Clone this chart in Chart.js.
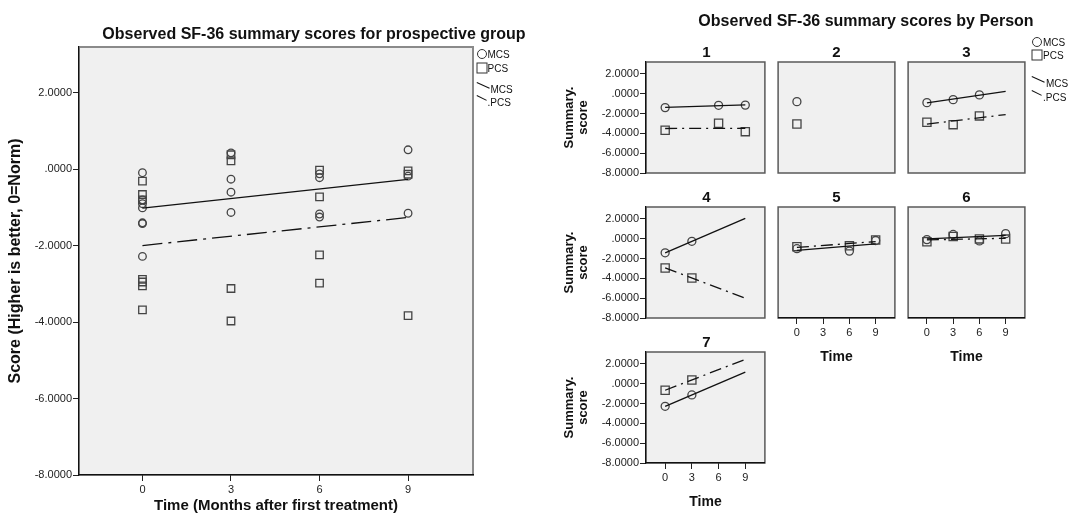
<!DOCTYPE html>
<html>
<head>
<meta charset="utf-8">
<script src="https://cdn.jsdelivr.net/npm/chart.js@4.4.0/dist/chart.umd.min.js"></script>
<style>
  body { margin: 0; width: 1079px; height: 515px; overflow: hidden; position: relative; background: #fff;
         font-family: "Liberation Sans", Arial, sans-serif; color: #111; }
  canvas { position: absolute; }
  .txt { position: absolute; white-space: nowrap; transform: translate(-50%, -50%); }
  .ttl { font-weight: bold; font-size: 16px; }
  .lg { position: absolute; white-space: nowrap; font-size: 10px; transform: translateY(-50%); }
  .dot { position: absolute; width: 8px; height: 8px; border: 1.2px solid #333; border-radius: 50%; transform: translate(-50%, -50%); }
  .sq { position: absolute; width: 9px; height: 9px; border: 1.2px solid #333; transform: translate(-50%, -50%); }
  .seg { position: absolute; height: 0; border-top: 1.3px solid #111; transform-origin: 0 0; }
</style>
</head>
<body>
<script>
// ---- data ----
const times = [0, 3, 6, 9];
const persons = ['1', '2', '3', '4', '5', '6', '7'];
// MCS / PCS per person at times 0, 3, 6, 9 (null = not observed)
const mcs = [
  [-1.40, null, -1.17, -1.15],
  [-0.80, null, null, null],
  [-0.90, -0.60, -0.12, null],
  [-1.42, -0.26, null, null],
  [-1.01, null, -1.25, -0.18],
  [-0.09, 0.43, -0.22, 0.51],
  [-2.28, -1.13, null, null]
];
const pcs = [
  [-3.68, null, -2.98, -3.83],
  [-3.05, null, null, null],
  [-2.88, -3.12, -2.24, null],
  [-2.95, -3.97, null, null],
  [-0.80, null, -0.72, -0.13],
  [-0.31, 0.22, -0.02, -0.04],
  [-0.66, 0.38, null, null]
];
const yTicks = [-8, -6, -4, -2, 0, 2];
const xTicks = [0, 3, 6, 9];
const yMin = -8, yMax = 3.2;
const xMin = -2.15, xMax = 11.2;

Chart.defaults.font.family = '"Liberation Sans", Arial, sans-serif';
Chart.defaults.color = '#222';
Chart.defaults.animation = false;

// grey plot background + frame
const panelBg = {
  id: 'panelBg',
  beforeDraw(chart, args, o) {
    const a = chart.chartArea, ctx = chart.ctx;
    ctx.save();
    ctx.fillStyle = '#f0f0f0';
    ctx.fillRect(a.left, a.top, a.right - a.left, a.bottom - a.top);
    ctx.strokeStyle = o.edge || '#666';
    ctx.lineWidth = o.edgeWidth || 1.5;
    ctx.strokeRect(a.left, a.top, a.right - a.left, a.bottom - a.top);
    ctx.restore();
  }
};

const fmt = v => Number(v).toFixed(4).replace(/^(-?)0\./, '$1.');

function points(rows) {
  const out = [];
  rows.forEach(r => r.forEach((v, i) => { if (v != null) out.push({ x: times[i], y: v }); }));
  return out;
}

// least squares fit over the time range
function fitLine(pts) {
  if (pts.length < 2) return [];
  const n = pts.length;
  const mx = pts.reduce((s, p) => s + p.x, 0) / n;
  const my = pts.reduce((s, p) => s + p.y, 0) / n;
  let sxy = 0, sxx = 0;
  pts.forEach(p => { sxy += (p.x - mx) * (p.y - my); sxx += (p.x - mx) ** 2; });
  const b = sxy / sxx, a = my - b * mx;
  const x0 = times[0], x1 = times[times.length - 1];
  return [{ x: x0, y: a + b * x0 }, { x: x1, y: a + b * x1 }];
}

function markerSet(pts, style, r) {
  return { data: pts, showLine: false, pointStyle: style, pointRadius: r, pointHoverRadius: r,
           pointBorderWidth: 1.3, pointBorderColor: '#444', pointBackgroundColor: 'rgba(0,0,0,0)' };
}
function lineSet(pts, dash) {
  return { data: pts, showLine: true, pointRadius: 0, pointHoverRadius: 0,
           borderColor: '#111', borderWidth: 1.3, borderDash: dash, fill: false };
}

function yScale(show, width, title) {
  return {
    type: 'linear', min: yMin, max: yMax, display: show,
    afterBuildTicks: s => { s.ticks = yTicks.map(v => ({ value: v })); },
    afterFit: s => { if (show) s.width = width; },
    ticks: { callback: fmt, font: { size: 11 }, color: '#222', padding: 1, autoSkip: false },
    grid: { drawOnChartArea: false, tickLength: 6, color: '#222' },
    border: { color: '#111', width: 1.2 },
    title: title
  };
}
function xScale(show, height, title) {
  return {
    type: 'linear', min: xMin, max: xMax, display: show,
    afterBuildTicks: s => { s.ticks = xTicks.map(v => ({ value: v })); },
    afterFit: s => { if (show) s.height = height; },
    ticks: { font: { size: 11 }, color: '#222', padding: 2, autoSkip: false, maxRotation: 0 },
    grid: { drawOnChartArea: false, tickLength: 6, color: '#222' },
    border: { color: '#111', width: 1.2 },
    title: title
  };
}

function addCanvas(l, t, w, h) {
  const c = document.createElement('canvas');
  c.width = w; c.height = h;
  c.style.left = l + 'px'; c.style.top = t + 'px';
  c.style.width = w + 'px'; c.style.height = h + 'px';
  document.body.appendChild(c);
  return c;
}
function addText(text, x, y, cls, css) {
  const d = document.createElement('div');
  d.className = cls; d.textContent = text;
  d.style.left = x + 'px'; d.style.top = y + 'px';
  if (css) d.style.cssText += css;
  document.body.appendChild(d);
  return d;
}
function addSeg(x1, y1, x2, y2) {
  const d = document.createElement('div');
  d.className = 'seg';
  const len = Math.hypot(x2 - x1, y2 - y1);
  d.style.left = x1 + 'px'; d.style.top = y1 + 'px'; d.style.width = len + 'px';
  d.style.transform = 'rotate(' + Math.atan2(y2 - y1, x2 - x1) + 'rad)';
  document.body.appendChild(d);
}
function addLegend(x, y0, y1, y2, y3) {
  const c = document.createElement('div'); c.className = 'dot';
  c.style.left = x + 'px'; c.style.top = y0 + 'px'; document.body.appendChild(c);
  addText('MCS', x + 6, y0, 'lg');
  const s = document.createElement('div'); s.className = 'sq';
  s.style.left = x + 'px'; s.style.top = y1 + 'px'; document.body.appendChild(s);
  addText('PCS', x + 6, y1, 'lg');
  addSeg(x - 5, y2 - 6, x + 8, y2);
  addText('MCS', x + 9, y2 + 1, 'lg');
  addSeg(x - 5, y3 - 6, x + 5, y3 - 1);
  addText('.PCS', x + 6, y3 + 1, 'lg');
}

// ---- left chart: pooled group ----
const allMcs = points(mcs), allPcs = points(pcs);
new Chart(addCanvas(0, 37, 485, 478), {
  type: 'scatter',
  data: {
    datasets: [
      lineSet(fitLine(allMcs), []),
      lineSet(fitLine(allPcs), [20, 6, 3, 6]),
      markerSet(allMcs, 'circle', 3.8),
      markerSet(allPcs, 'rect', 5.3)
    ]
  },
  options: {
    responsive: false, events: [],
    layout: { padding: { left: 0, top: 10, right: 12, bottom: 0 } },
    plugins: { legend: { display: false }, tooltip: { enabled: false }, panelBg: { edge: '#8a8a8a', edgeWidth: 2 } },
    scales: {
      x: xScale(true, 40, { display: true, text: 'Time (Months after first treatment)',
           font: { size: 15, weight: 'bold' }, color: '#111', padding: { top: 0, bottom: 0 } }),
      y: yScale(true, 79, { display: true, text: 'Score (Higher is better, 0=Norm)',
           font: { size: 16, weight: 'bold' }, color: '#111', padding: { top: 6, bottom: 0 } })
    }
  },
  plugins: [panelBg]
});
addText('Observed SF-36 summary scores for prospective group', 314, 33.5, 'txt ttl');
addLegend(481.5, 53.5, 67.5, 88, 101);

// ---- right side: one panel per person ----
const colLeft = [646, 776, 906], rowTop = [62, 207, 352];
const PW = 121, PH = 111, YW = 86, XH = 50;
persons.forEach((p, i) => {
  const row = Math.floor(i / 3), col = i % 3;
  const showY = col === 0, showX = i >= 4;
  const pl = colLeft[col], pt = rowTop[row];
  const padL = showY ? 0 : 5, padB = showX ? 0 : 10;
  const cl = pl - (showY ? YW : 5), ct = pt - 10;
  const cw = (pl - cl) + PW + 5, ch = 10 + PH + (showX ? XH : 10);
  const mp = points([mcs[i]]), pp = points([pcs[i]]);
  new Chart(addCanvas(cl, ct, cw, ch), {
    type: 'scatter',
    data: {
      datasets: [
        lineSet(fitLine(mp), []),
        lineSet(fitLine(pp), [12, 5, 2, 5]),
        markerSet(mp, 'circle', 4),
        markerSet(pp, 'rect', 5.8)
      ]
    },
    options: {
      responsive: false, events: [],
      layout: { padding: { left: padL, top: 10, right: 5, bottom: padB } },
      plugins: { legend: { display: false }, tooltip: { enabled: false }, panelBg: { edge: '#5a5a5a', edgeWidth: 1.5 } },
      scales: {
        x: xScale(showX, XH, { display: true, text: 'Time', font: { size: 14, weight: 'bold' },
             color: '#111', padding: { top: 0, bottom: 2 } }),
        y: yScale(showY, YW, { display: true, text: ['Summary.', 'score'],
             font: { size: 13, weight: 'bold', lineHeight: 1.08 }, color: '#111', padding: { top: 2, bottom: 0 } })
      }
    },
    plugins: [panelBg]
  });
  addText(p, pl + PW / 2, pt - 11, 'txt ttl', 'font-size:15px');
});
addText('Observed SF-36 summary scores by Person', 866, 20.5, 'txt ttl');
addLegend(1037, 41.5, 54.5, 82, 96);
</script>
</body>
</html>
